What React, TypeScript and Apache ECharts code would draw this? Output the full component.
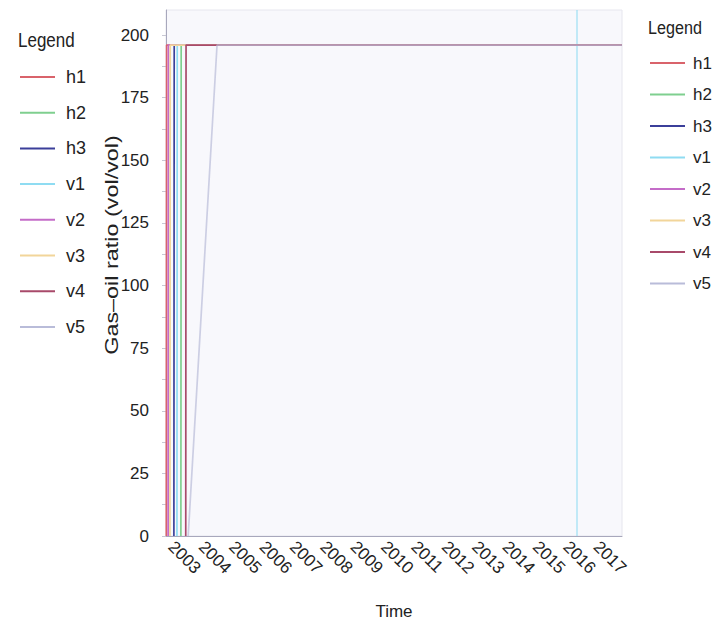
import React, { useEffect, useRef } from "react";
import * as echarts from "echarts";

const seriesNames = ["h1", "h2", "h3", "v1", "v2", "v3", "v4", "v5"];
const seriesColors = ["#d9636b", "#7fcf8f", "#3b3f9a", "#8fdcf2", "#c46cc8", "#f2d59a", "#a84a6a", "#b9bcd9"];
// decimal years / gas-oil ratio
const h1Data = [[2002.84, 0], [2002.85, 196], [2017.84, 196]];
const h2Data = [[2003.32, 0], [2003.33, 196], [2017.84, 196]];
const h3Data = [[2003.09, 0], [2003.1, 196], [2017.84, 196]];
const v1Data = [[2003.19, 0], [2003.2, 196], [2017.84, 196]];
const v2Data = [[2002.9, 0], [2002.91, 196], [2017.84, 196]];
const v3Data = [[2002.96, 0], [2002.97, 196], [2017.84, 196]];
const v4Data = [[2003.48, 0], [2003.49, 196], [2017.84, 196]];
const v5Data = [[2003.56, 0], [2004.51, 196], [2017.84, 196]];
const v1Marker = 2016.36;
const yearTicks = [2003, 2004, 2005, 2006, 2007, 2008, 2009, 2010, 2011, 2012, 2013, 2014, 2015, 2016, 2017];
const yLabels = [0, 25, 50, 75, 100, 125, 150, 175, 200];
const yTicks = [0, 12.5, 25, 37.5, 50, 62.5, 75, 87.5, 100, 112.5, 125, 137.5, 150, 162.5, 175, 187.5, 200];

const FONT = "'Liberation Sans', Arial, sans-serif";

export default function App() {
  const ref = useRef<HTMLDivElement>(null);
  useEffect(() => {
    if (!ref.current) return;
    const chart = echarts.init(ref.current, null, { renderer: "svg" });
    const allData = [h1Data, h2Data, h3Data, v1Data, v2Data, v3Data, v4Data, v5Data];
    const series: any[] = seriesNames.map((name, i) => ({
      name,
      type: "line",
      data: allData[i],
      symbol: "none",
      color: seriesColors[i],
      lineStyle: { width: 1.7, color: seriesColors[i], opacity: name === "v5" ? 0.7 : 1 },
      z: 2 + i,
      ...(name === "v1"
        ? {
            markLine: {
              silent: true,
              symbol: ["none", "none"],
              label: { show: false },
              lineStyle: { type: "solid", color: seriesColors[i], width: 1.5, opacity: 0.7 },
              data: [{ xAxis: v1Marker }],
            },
          }
        : {}),
    }));
    chart.setOption({
      animation: false,
      backgroundColor: "#ffffff",
      grid: {
        left: 166,
        right: 100,
        top: 10,
        bottom: 91,
        outerBoundsMode: "none",
        containLabel: false,
        show: true,
        backgroundColor: "#f8f8fc",
        borderColor: "#e6e6ee",
        borderWidth: 1,
      },
      xAxis: {
        type: "value",
        min: 2002.83,
        max: 2017.84,
        name: "Time",
        nameLocation: "middle",
        nameGap: 67,
        nameTextStyle: { fontFamily: FONT, fontSize: 17, color: "#222" },
        axisLine: { show: true, lineStyle: { color: "#a8a8bc", width: 1 } },
        axisTick: { show: false, customValues: yearTicks },
        splitLine: { show: false },
        axisLabel: {
          customValues: yearTicks,
          rotate: -45,
          margin: 8,
          fontFamily: FONT,
          fontSize: 17,
          color: "#222",
          formatter: (v: number) => String(Math.round(v)),
        },
      },
      yAxis: {
        type: "value",
        min: 0,
        max: 210,
        axisLine: { show: true, lineStyle: { color: "#a8a8bc", width: 1 } },
        axisTick: { show: true, customValues: yTicks, length: 4, lineStyle: { color: "#c8c8d4" } },
        splitLine: { show: false },
        axisLabel: {
          customValues: yLabels,
          margin: 17,
          fontFamily: FONT,
          fontSize: 17,
          color: "#222",
        },
      },
      legend: [
        {
          data: seriesNames,
          orient: "vertical",
          left: 15,
          top: 62,
          icon: "rect",
          itemWidth: 35,
          itemHeight: 2,
          itemGap: 15.7,
          textStyle: { fontFamily: FONT, fontSize: 18, lineHeight: 20, color: "#222", padding: [0, 0, 0, 6] },
        },
        {
          data: seriesNames,
          orient: "vertical",
          left: 645,
          top: 49,
          icon: "rect",
          itemWidth: 35,
          itemHeight: 2,
          itemGap: 13.5,
          textStyle: { fontFamily: FONT, fontSize: 17, lineHeight: 18, color: "#222", padding: [0, 0, 0, 3] },
        },
      ],
      graphic: [
        {
          type: "text",
          x: 18,
          y: 40,
          scaleX: 0.85,
          style: { text: "Legend", fontFamily: FONT, fontSize: 20, fill: "#222", verticalAlign: "middle" },
        },
        {
          type: "text",
          x: 648,
          y: 28,
          scaleX: 0.85,
          style: { text: "Legend", fontFamily: FONT, fontSize: 19, fill: "#222", verticalAlign: "middle" },
        },
        {
          type: "text",
          x: 112,
          y: 245,
          rotation: Math.PI / 2,
          scaleX: 1.3,
          style: {
            text: "Gas–oil ratio (vol/vol)",
            fontFamily: FONT,
            fontSize: 18,
            fill: "#222",
            align: "center",
            verticalAlign: "middle",
          },
        },
      ],
      series,
    });
    return () => chart.dispose();
  }, []);
  return <div ref={ref} style={{ width: 722, height: 627, position: "absolute", left: 0, top: 0 }} />;
}
